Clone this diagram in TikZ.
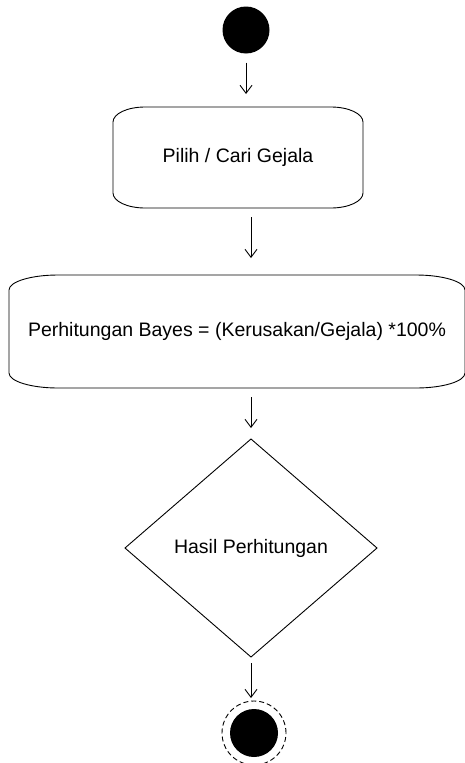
\documentclass[tikz,border=0pt]{standalone}
\usepackage{fontspec}
\setmainfont{Liberation Sans}
\usetikzlibrary{positioning,shapes.geometric,arrows.meta}

% outline of an activity box with elliptic corners: node, x radius, y radius
\newcommand{\actoutline}[3]{%
  \draw ([xshift=#2]#1.north west) -- ([xshift=-#2]#1.north east)
    arc[start angle=90,end angle=0,x radius=#2,y radius=#3]
    -- ([yshift=#3]#1.south east)
    arc[start angle=0,end angle=-90,x radius=#2,y radius=#3]
    -- ([xshift=#2]#1.south west)
    arc[start angle=270,end angle=180,x radius=#2,y radius=#3]
    -- ([yshift=-#3]#1.north west)
    arc[start angle=180,end angle=90,x radius=#2,y radius=#3];}

\begin{document}
\begin{tikzpicture}[x=1pt,y=1pt,on grid,line width=0.9pt,
    >={Straight Barb[length=8pt,width=12pt]},
    font=\fontsize{19.5}{23}\selectfont,
    startdot/.style={circle,fill=black,minimum size=47pt,inner sep=0pt,outer sep=0pt},
    activity/.style={rectangle,inner sep=0pt,outer sep=0pt},
    decision/.style={diamond,draw,minimum width=252pt,minimum height=218pt,inner sep=0pt,outer sep=0pt},
    enddot/.style={circle,draw,dash pattern=on 5pt off 3pt,minimum size=64pt,inner sep=0pt,outer sep=0pt},
    flow/.style={->,shorten <=9pt,shorten >=13pt}]
  \useasboundingbox (0,0) rectangle (465,-763);

  \node[startdot] (start) at (246,-30) {};
  \node[activity,minimum width=250pt,minimum height=101pt] (pilih) [below left=127.5pt and 8pt of start] {Pilih / Cari Gejala};
  \node[activity,minimum width=456pt,minimum height=113pt] (bayes) [below left=174pt and 1pt of pilih] {Perhitungan Bayes = (Kerusakan/Gejala) *100\%};
  \node[decision,label=center:{Hasil Perhitungan}] (hasil) [below right=216.5pt and 14pt of bayes] {};
  \node[enddot] (finish) [below right=185pt and 3pt of hasil] {};
  \fill (finish.center) circle[radius=24pt];

  \actoutline{pilih}{32pt}{15pt}
  \actoutline{bayes}{49pt}{15pt}

  \draw[flow] (start.south) -- (start.south |- pilih.north);
  \draw[flow,shorten >=17pt] (pilih.south -| hasil.north) -- (bayes.north -| hasil.north);
  \draw[flow,shorten >=11pt] (bayes.south -| hasil.north) -- (hasil.north);
  \draw[flow,shorten <=6pt,shorten >=3pt] (hasil.south) -- (hasil.south |- finish.north);
\end{tikzpicture}
\end{document}
